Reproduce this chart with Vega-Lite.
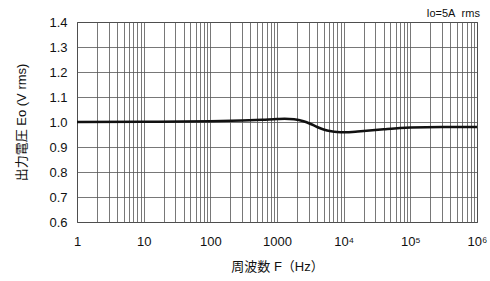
{
  "$schema": "https://vega.github.io/schema/vega-lite/v6.json",
  "width": 400,
  "height": 200,
  "autosize": {"type": "none"},
  "padding": {"left": 77, "top": 22, "right": 13, "bottom": 59},
  "background": "white",
  "title": {"text": "Io=5A\u00a0\u00a0rms", "anchor": "end", "fontSize": 11, "fontWeight": "normal", "font": "Liberation Sans", "color": "#111", "dx": -7, "dy": 9, "offset": 6},
  "config": {
    "view": {"stroke": "#333", "strokeWidth": 1},
    "axis": {"labelFont": "Liberation Sans", "titleFont": "Liberation Sans, Noto Sans CJK JP", "labelColor": "#111", "titleColor": "#111", "gridColor": "#555", "gridWidth": 0.8, "gridOpacity": 1, "domain": false, "ticks": false}
  },
  "data": {"values": [
    {"f": 1, "v": 1.000},
    {"f": 10, "v": 1.001},
    {"f": 100, "v": 1.003},
    {"f": 300, "v": 1.006},
    {"f": 600, "v": 1.009},
    {"f": 1000, "v": 1.012},
    {"f": 1300, "v": 1.013},
    {"f": 1800, "v": 1.011},
    {"f": 2500, "v": 1.003},
    {"f": 3200, "v": 0.992},
    {"f": 4000, "v": 0.980},
    {"f": 5000, "v": 0.970},
    {"f": 6500, "v": 0.963},
    {"f": 8000, "v": 0.960},
    {"f": 10000, "v": 0.959},
    {"f": 15000, "v": 0.961},
    {"f": 20000, "v": 0.964},
    {"f": 40000, "v": 0.971},
    {"f": 70000, "v": 0.976},
    {"f": 100000, "v": 0.978},
    {"f": 300000, "v": 0.980},
    {"f": 1000000, "v": 0.980}
  ]},
  "mark": {"type": "line", "color": "#111", "strokeWidth": 2.5, "interpolate": "monotone"},
  "encoding": {
    "x": {
      "field": "f", "type": "quantitative",
      "scale": {"type": "log", "domain": [1, 1000000], "nice": false},
      "axis": {
        "values": [1,2,3,4,5,6,7,8,9,10,20,30,40,50,60,70,80,90,100,200,300,400,500,600,700,800,900,1000,2000,3000,4000,5000,6000,7000,8000,9000,10000,20000,30000,40000,50000,60000,70000,80000,90000,100000,200000,300000,400000,500000,600000,700000,800000,900000,1000000],
        "labelExpr": "datum.value == 1 ? '1' : datum.value == 10 ? '10' : datum.value == 100 ? '100' : datum.value == 1000 ? '1000' : datum.value == 10000 ? '10⁴' : datum.value == 100000 ? '10⁵' : datum.value == 1000000 ? '10⁶' : ''",
        "labelOverlap": false,
        "labelBound": false,
        "labelFlush": false,
        "labelFontSize": 13,
        "labelPadding": 13,
        "title": "周波数 F（Hz）",
        "titleFontSize": 13,
        "titleFontWeight": "normal",
        "titlePadding": 12
      }
    },
    "y": {
      "field": "v", "type": "quantitative",
      "scale": {"domain": [0.6, 1.4], "nice": false, "zero": false},
      "axis": {
        "values": [0.6, 0.7, 0.8, 0.9, 1.0, 1.1, 1.2, 1.3, 1.4],
        "format": ".1f",
        "labelFontSize": 13,
        "labelPadding": 10,
        "title": "出力電圧 Eo (V rms)",
        "titleFontSize": 13,
        "titleFontWeight": "normal",
        "titlePadding": 20
      }
    }
  }
}
